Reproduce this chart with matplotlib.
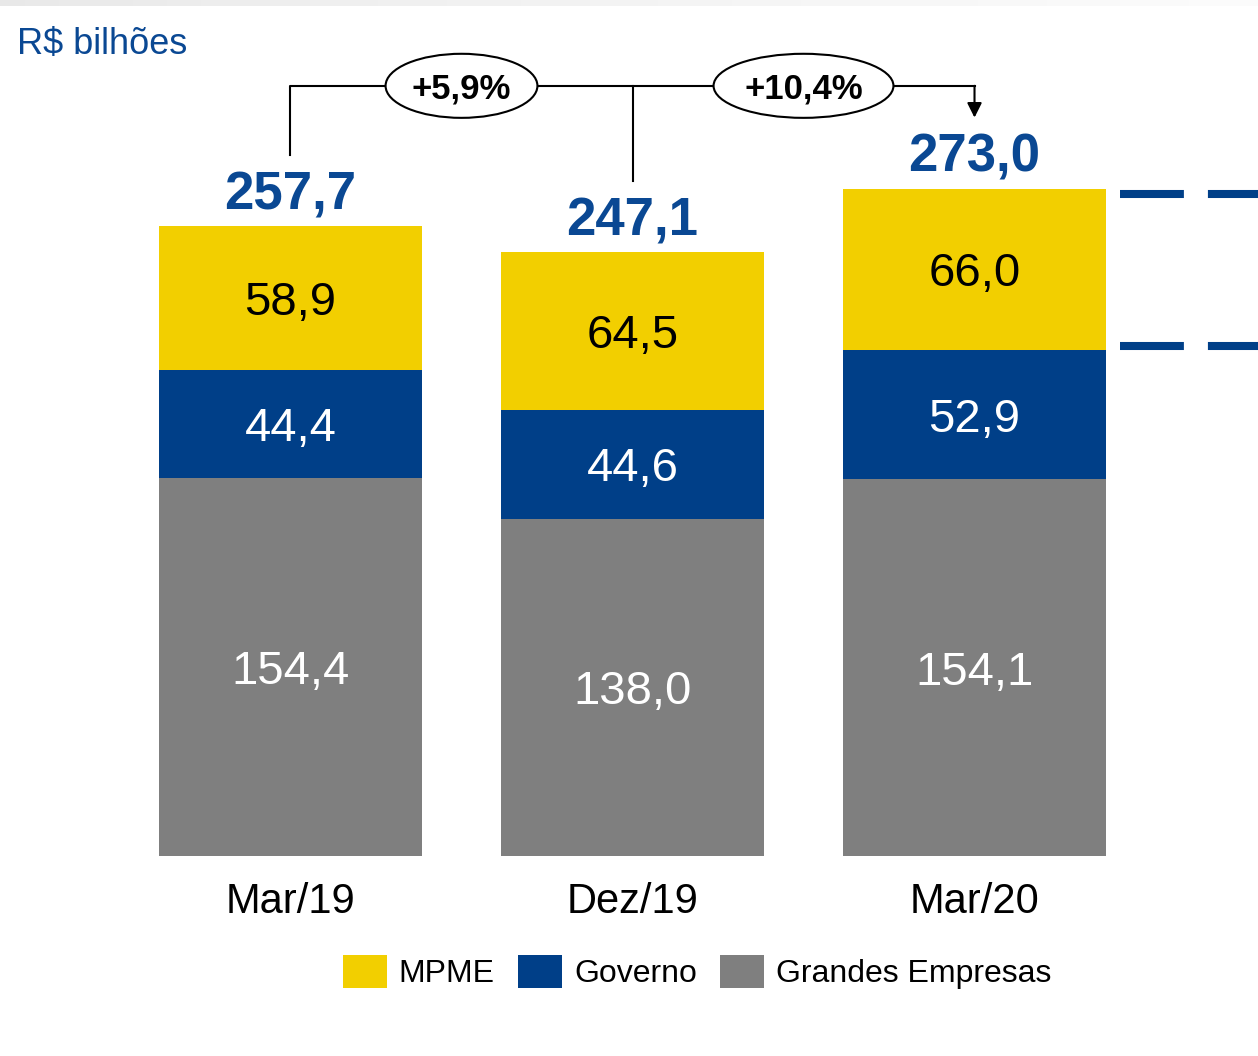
import matplotlib.pyplot as plt
from matplotlib.patches import Ellipse
import numpy as np

plt.rcParams['font.family'] = ['Liberation Sans', 'DejaVu Sans']
plt.rcParams['lines.scale_dashes'] = False

# data (R$ bilhões)
categories = ['Mar/19', 'Dez/19', 'Mar/20']
grandes = [154.4, 138.0, 154.1]
governo = [44.4, 44.6, 52.9]
mpme = [58.9, 64.5, 66.0]
totais = [257.7, 247.1, 273.0]
growth_labels = ['+5,9%', '+10,4%']

yellow = '#F2CF00'
blue = '#003F88'
grey = '#7F7F7F'
text_blue = '#0A4893'


def fmt(v):
    return f'{v:.1f}'.replace('.', ',')


fig = plt.figure(figsize=(12.58, 10.56), dpi=100)

# light gradient band at the very top
band = fig.add_axes([0, 1 - 6 / 1056, 1, 6 / 1056])
band.imshow(np.linspace(0, 1, 256)[None, :], aspect='auto', cmap='Greys_r',
            vmin=-6, vmax=1.2)
band.axis('off')

ax = fig.add_axes([0, 0, 1, 1])
ax.set_xlim(-0.8494, 2.8289)
ax.set_ylim(-81.8, 350.1)
ax.axis('off')

x = np.arange(len(categories))
g = np.array(grandes)
gv = np.array(governo)
w = 0.769
b1 = ax.bar(x, grandes, width=w, color=grey, label='Grandes Empresas')
b2 = ax.bar(x, governo, bottom=g, width=w, color=blue, label='Governo')
b3 = ax.bar(x, mpme, bottom=g + gv, width=w, color=yellow, label='MPME')

labs = []
labs += ax.bar_label(b1, labels=[fmt(v) for v in grandes], label_type='center',
                     fontsize=34, color='white')
labs += ax.bar_label(b2, labels=[fmt(v) for v in governo], label_type='center',
                     fontsize=34, color='white')
labs += ax.bar_label(b3, labels=[fmt(v) for v in mpme], label_type='center',
                     fontsize=34, color='black')
for t in labs:
    t.set_verticalalignment('center_baseline')

# totals above bars
for xi, t in zip(x, totais):
    ax.annotate(fmt(t), xy=(xi, t), xytext=(0, 26), textcoords='offset points',
                ha='center', va='center_baseline', fontsize=38,
                fontweight='bold', color=text_blue)

# category labels
for xi, c in zip(x, categories):
    ax.annotate(c, xy=(xi, 0), xytext=(0, -30), textcoords='offset points',
                ha='center', va='center_baseline', fontsize=30, color='black')

# growth bracket
y_br = max(totais) + 42
ends = [t + 29 for t in totais]
ax.plot([x[0], x[0], x[2]], [ends[0], y_br, y_br], color='black', lw=1.5,
        zorder=2)
ax.plot([x[1], x[1]], [ends[1], y_br], color='black', lw=1.5, zorder=2)
ax.annotate('', xy=(x[2], ends[2]), xytext=(x[2], y_br),
            arrowprops=dict(arrowstyle='-|>', lw=1.5, color='black',
                            mutation_scale=22, shrinkA=0, shrinkB=0))

ell_w = [0.444, 0.526]
for i, lab in enumerate(growth_labels):
    cx = (x[i] + x[i + 1]) / 2
    ax.add_patch(Ellipse((cx, y_br), ell_w[i], 26.2, facecolor='white',
                         edgecolor='black', lw=1.5, zorder=3))
    ax.text(cx, y_br, lab, ha='center', va='center_baseline', fontsize=25,
            fontweight='bold', zorder=4)

# dashed markers on the right of the last bar (MPME segment)
for yv in [totais[2] - 2.2, grandes[2] + governo[2] + 1.6]:
    ax.plot([2.425, 2.85], [yv, yv], color=blue, lw=5.8,
            dashes=(46, 17.3), dash_capstyle='butt')

fig.text(17 / 1258, 1 - 41 / 1056, 'R$ bilhões', ha='left',
         va='center_baseline', fontsize=26, color=text_blue)

fig.legend(handles=[b3, b2, b1], loc='center',
           bbox_to_anchor=(697 / 1258, 84 / 1056), ncol=3, frameon=False,
           fontsize=23, handlelength=1.38, handleheight=1.25,
           handletextpad=0.38, columnspacing=0.72)

fig.savefig('out.png', dpi=100)
